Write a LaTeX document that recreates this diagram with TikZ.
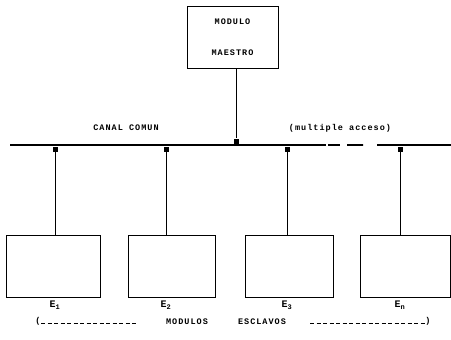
\documentclass[tikz,border=0pt]{standalone}
\usepackage{fontspec}
\newfontfamily\typefont{Liberation Mono}[LetterSpace=12]
\usetikzlibrary{positioning}

\begin{document}
\begin{tikzpicture}[x=1pt, y=-1pt,
  font=\typefont\bfseries\fontsize{8.5}{9}\selectfont,
  modbox/.style={rectangle, draw=black, line width=0.8pt,
                 minimum width=#1, minimum height=62pt, inner sep=0pt},
  junc/.style={rectangle, fill=black, minimum width=5pt, minimum height=5pt, inner sep=0pt},
  bus/.style={line width=1.2pt},
  link/.style={line width=0.8pt},
  elbl/.style={font=\typefont\bfseries\fontsize{10}{11}\selectfont},
  brk/.style={line width=0.7pt, dash pattern=on 4pt off 2.5pt}
]
\useasboundingbox (0,0) rectangle (451,340);

% Master module
\node[modbox=91pt, align=center] (mae) at (232.5,37.5) {MODULO\\[22pt]MAESTRO};

% Common channel (bus)
\coordinate (busL) at (10,145);
\coordinate (gapL) at (326,145);
\coordinate (gapA) at (328,145);
\coordinate (gapB) at (363,145);
\coordinate (gapR) at (377,145);
\coordinate (busR) at (451,145);
\draw[bus] (busL) -- (gapL);
\draw[bus, dash pattern=on 12pt off 7pt on 16pt off 0pt] (gapA) -- (gapB);
\draw[bus] (gapR) -- (busR);

\node (canal) at (126,128) {CANAL COMUN};
\node (acc)   at (340,128) {(multiple acceso)};

% Junctions
\node[junc] (jm) at (236,141) {};
\node[junc] (j1) at (55,149) {};
\node[junc] (j2) at (166,149) {};
\node[junc] (j3) at (287,149) {};
\node[junc] (jn) at (400,149) {};

% Slave modules
\node[modbox=94pt] (e1) at (53,266)    {};
\node[modbox=87pt] (e2) at (171.5,266) {};
\node[modbox=88pt] (e3) at (289,266)   {};
\node[modbox=90pt] (en) at (405,266)   {};

% Links
\draw[link] (mae.south -| jm) -- (jm);
\draw[link] (j1) -- (j1 |- e1.north);
\draw[link] (j2) -- (j2 |- e2.north);
\draw[link] (j3) -- (j3 |- e3.north);
\draw[link] (jn) -- (jn |- en.north);

% Labels
\node[elbl] (l1) at (55,305)  {E\textsubscript{1}};
\node[elbl] (l2) at (166,305) {E\textsubscript{2}};
\node[elbl] (l3) at (287,305) {E\textsubscript{3}};
\node[elbl] (ln) at (400,305) {E\textsubscript{n}};

% Slave group bracket
\node (lpar) at (38,321)  {(};
\node (modl) at (187,322) {MODULOS};
\node (escl) at (262,322) {ESCLAVOS};
\node (rpar) at (428,321) {)};
\coordinate (ldA) at (41,323);
\coordinate (ldB) at (136,323);
\coordinate (rdA) at (310,323);
\coordinate (rdB) at (425,323);
\draw[brk] (ldA) -- (ldB);
\draw[brk] (rdA) -- (rdB);

\end{tikzpicture}
\end{document}
